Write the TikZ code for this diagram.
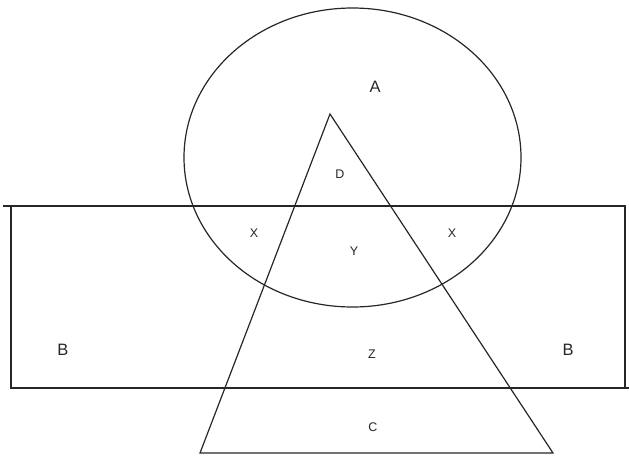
\documentclass[tikz,border=0pt]{standalone}
\usepackage{fontspec}
\setmainfont{Liberation Sans}
\usepackage{tikz}
\usetikzlibrary{calc}

\begin{document}
\begin{tikzpicture}[
    x=1pt, y=-1pt,
    every node/.style={font=\fontsize{12.5pt}{14pt}\selectfont, text=black!85, inner sep=0pt},
    big/.style={font=\fontsize{16.5pt}{18pt}\selectfont},
    edge/.style={line width=1.2pt, black!85}
  ]
    \useasboundingbox (0,0) rectangle (629,456);
    % set A, B and C
    \draw[edge] (352.5,157.5) ellipse [x radius=168.5, y radius=149.5];
    \draw[edge] (11,206) rectangle (625,388);
    \draw[edge] (3,206) -- (11,206);
    \draw[edge] (625,388) -- (629,388);
    \draw[edge] (330,114) -- (553,453) -- (200,453) -- cycle;
    % region labels
    \node[big] (a) at (375,87) {A};
    \node (d) at (340,174) {D};
    \node (xl) at (254,233) {X};
    \node (y) at (354,251) {Y};
    \node (xr) at (452,233) {X};
    \node[big] (bl) at (63,350) {B};
    \node (z) at (372,354) {Z};
    \node[big] (br) at (568,350) {B};
    \node (c) at (373,427) {C};
  \end{tikzpicture}
\end{document}
